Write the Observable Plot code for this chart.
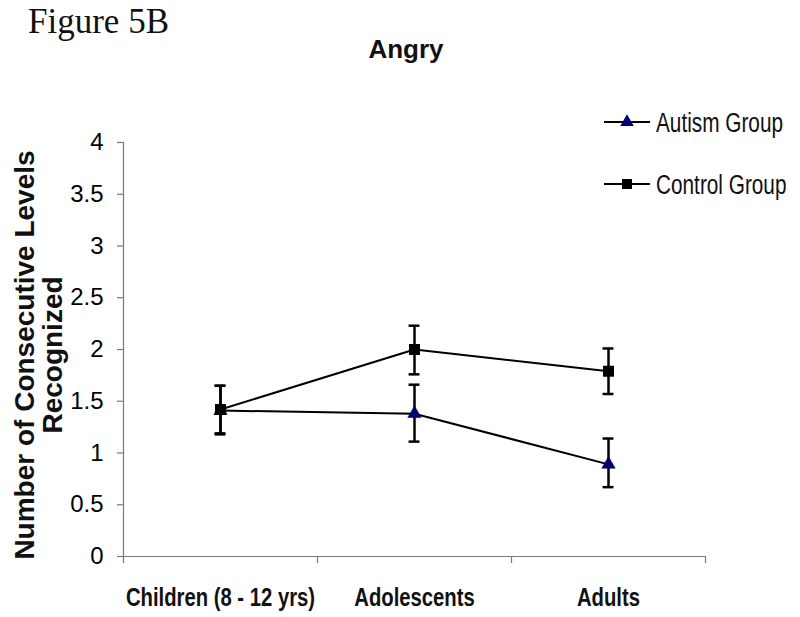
<!DOCTYPE html>
<html>
<head>
<meta charset="utf-8">
<script src="https://cdn.jsdelivr.net/npm/d3@7"></script>
<script src="https://cdn.jsdelivr.net/npm/@observablehq/plot@0.6"></script>
<style>
  html, body { margin: 0; padding: 0; background: #fff; }
  #chart { width: 800px; height: 617px; position: relative; }
</style>
</head>
<body>
<div id="chart"></div>
<script>
// ---- data ----
const categories = ["Children (8 - 12 yrs)", "Adolescents", "Adults"];
const groups = ["Autism Group", "Control Group"];
const autismMean = [1.41, 1.38, 0.89];
const autismLo   = [1.18, 1.11, 0.67];
const autismHi   = [1.65, 1.66, 1.14];
const controlMean = [1.42, 2.00, 1.79];
const controlLo   = [1.19, 1.76, 1.57];
const controlHi   = [1.65, 2.23, 2.01];
const yTicks = [0, 0.5, 1, 1.5, 2, 2.5, 3, 3.5, 4];
const xBounds = [0, 1, 2, 3];

const rows = [];
categories.forEach((c, i) => {
  rows.push({group: groups[0], cat: c, x: i + 0.5, mean: autismMean[i], lo: autismLo[i], hi: autismHi[i]});
});
categories.forEach((c, i) => {
  rows.push({group: groups[1], cat: c, x: i + 0.5, mean: controlMean[i], lo: controlLo[i], hi: controlHi[i]});
});
const autism = rows.filter(d => d.group === groups[0]);
const control = rows.filter(d => d.group === groups[1]);
const capHalf = 0.028;
const axisColor = "#7a7a7a";

const plot = Plot.plot({
  width: 800,
  height: 617,
  marginLeft: 123,
  marginRight: 95,
  marginTop: 142,
  marginBottom: 61,
  style: {fontFamily: "'Liberation Sans', Arial, sans-serif", background: "#fff", color: "#000"},
  x: {domain: [0, 3], axis: null},
  y: {domain: [0, 4], axis: null},
  marks: [
    Plot.axisY({ticks: yTicks, tickSize: 6, tickPadding: 14, fontSize: 24, stroke: axisColor, strokeWidth: 1.2, tickFormat: d => String(d), label: null}),
    Plot.axisX({ticks: xBounds, tickSize: 7, tickFormat: () => "", stroke: axisColor, strokeWidth: 1.2, label: null}),
    Plot.ruleX([0], {y1: 0, y2: 4, stroke: axisColor, strokeWidth: 1.2}),
    Plot.ruleY([0], {x1: 0, x2: 3, stroke: axisColor, strokeWidth: 1.2}),
    Plot.text(categories, {x: (d, i) => i + 0.5, y: () => 0, text: d => d, dy: 41, fontSize: 26, fontWeight: "bold", fill: "#111", className: "cat-labels"}),
    // lines
    Plot.line(rows, {x: "x", y: "mean", z: "group", stroke: "#000", strokeWidth: 2}),
    // error bars
    Plot.ruleX(rows, {x: "x", y1: "lo", y2: "hi", stroke: "#000", strokeWidth: 2.5}),
    Plot.ruleY(rows, {x1: d => d.x - capHalf, x2: d => d.x + capHalf, y: "hi", stroke: "#000", strokeWidth: 2.5}),
    Plot.ruleY(rows, {x1: d => d.x - capHalf, x2: d => d.x + capHalf, y: "lo", stroke: "#000", strokeWidth: 2.5}),
    // markers
    Plot.dot(autism, {x: "x", y: "mean", symbol: "triangle", r: 5, fill: "#00007a", stroke: "#000030", strokeWidth: 0.5}),
    Plot.dot(control, {x: "x", y: "mean", symbol: "square", r: 6.2, fill: "#000"})
  ]
});
document.getElementById("chart").appendChild(plot);

const svg = d3.select(plot);
// condense the category labels horizontally, as in the reference
svg.selectAll(".cat-labels text").each(function () {
  const t = d3.select(this);
  const tr = t.attr("transform") || "";
  t.attr("transform", tr + " scale(0.78,1)");
});

// ---- annotations (titles, axis label, legend) ----
svg.append("text")
  .attr("x", 28).attr("y", 33)
  .attr("text-anchor", "start")
  .attr("font-family", "'Liberation Serif', 'Times New Roman', serif")
  .attr("font-size", 35)
  .attr("fill", "#111")
  .text("Figure 5B");
svg.append("text")
  .attr("x", 406).attr("y", 58)
  .attr("text-anchor", "middle")
  .attr("font-size", 26).attr("font-weight", "bold")
  .attr("fill", "#111")
  .text("Angry");

const yl = svg.append("text")
  .attr("transform", "translate(34,355) rotate(-90)")
  .attr("text-anchor", "middle")
  .attr("font-size", 28).attr("font-weight", "bold")
  .attr("fill", "#111");
yl.append("tspan").attr("x", 0).attr("dy", 0).text("Number of Consecutive Levels");
yl.append("tspan").attr("x", 0).attr("dy", 28).text("Recognized");

const legendItems = [
  {label: groups[0], symbol: d3.symbolTriangle, size: 80, fill: "#00007a", y: 122},
  {label: groups[1], symbol: d3.symbolSquare, size: 100, fill: "#000", y: 184}
];
legendItems.forEach(item => {
  const g = svg.append("g");
  g.append("line").attr("x1", 604).attr("x2", 650).attr("y1", item.y).attr("y2", item.y)
    .attr("stroke", "#000").attr("stroke-width", 2);
  g.append("path").attr("d", d3.symbol(item.symbol, item.size)())
    .attr("transform", `translate(627,${item.y})`).attr("fill", item.fill);
  g.append("text")
    .attr("transform", `translate(656,${item.y}) scale(0.77,1)`)
    .attr("dy", "0.36em")
    .attr("text-anchor", "start")
    .attr("font-size", 27).attr("fill", "#111")
    .text(item.label);
});
</script>
</body>
</html>
